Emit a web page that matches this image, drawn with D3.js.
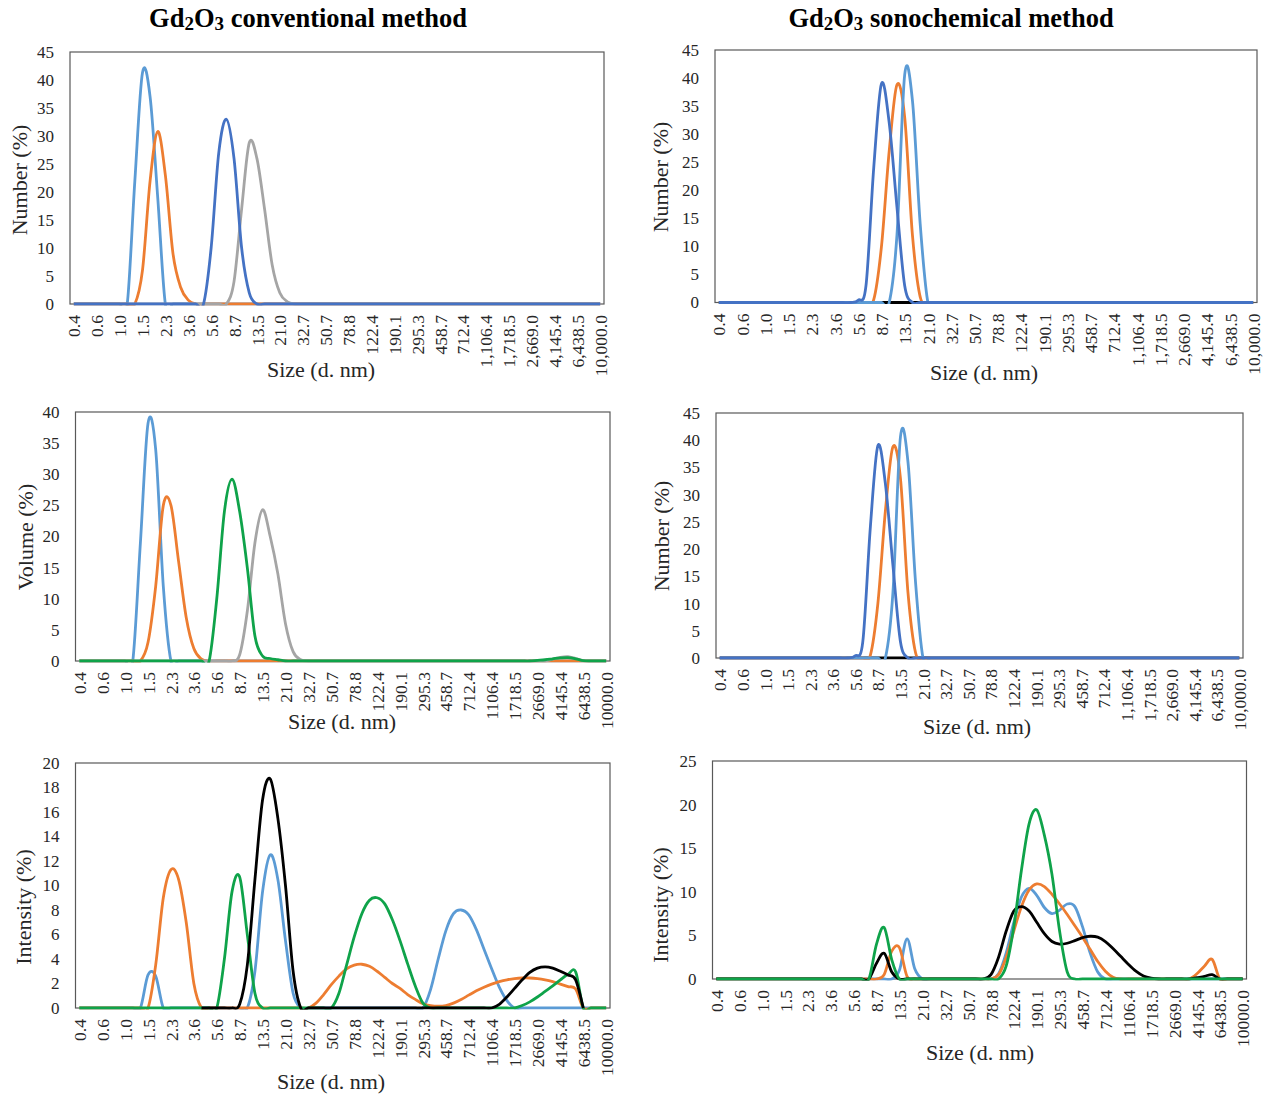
<!DOCTYPE html>
<html>
<meta charset="utf-8">
<style>
body { margin: 0; background: #fff; }
svg text { font-family: "Liberation Serif", "Times New Roman", serif; fill: #262626; }
.y-axis .tick text { font-size: 17px; }
.x-axis .tick text { font-size: 17.5px; }
.axis-title { font-size: 22px; }
.head { font-size: 26.5px; font-weight: bold; fill: #000; }
.box { fill: none; stroke: #595959; stroke-width: 1.2; }
.series { fill: none; stroke-width: 2.8; stroke-linejoin: round; }
</style>
<body>
<svg id="chart" width="1265" height="1094"></svg>
<script src="https://d3js.org/d3.v7.min.js"></script>
<script>

// size classes (d. nm): 70 bins, every third one is labelled
var binCount = 70, labelEvery = 3;
var sizeLabels = ["0.4","0.6","1.0","1.5","2.3","3.6","5.6","8.7","13.5","21.0","32.7","50.7",
    "78.8","122.4","190.1","295.3","458.7","712.4","1106.4","1718.5","2669.0","4145.4","6438.5","10000.0"];
var sizeLabelsComma = ["0.4","0.6","1.0","1.5","2.3","3.6","5.6","8.7","13.5","21.0","32.7","50.7",
    "78.8","122.4","190.1","295.3","458.7","712.4","1,106.4","1,718.5","2,669.0","4,145.4","6,438.5","10,000.0"];

// conventional method, number %
var numConvLightBlue = [0,0,0,0,0,0,0,0,22,41.3, 37,19,0,0,0,0,0,0,0,0, 0,0,0,0,0,0,0,0,0,0,
    0,0,0,0,0,0,0,0,0,0, 0,0,0,0,0,0,0,0,0,0, 0,0,0,0,0,0,0,0,0,0, 0,0,0,0,0,0,0,0,0,0];
var numConvOrange = [0,0,0,0,0,0,0,0,0,6, 22,30.8,23,9,3,0.7,0,0,0,0, 0,0,0,0,0,0,0,0,0,0,
    0,0,0,0,0,0,0,0,0,0, 0,0,0,0,0,0,0,0,0,0, 0,0,0,0,0,0,0,0,0,0, 0,0,0,0,0,0,0,0,0,0];
var numConvGray = [0,0,0,0,0,0,0,0,0,0, 0,0,0,0,0,0,0,0,0,0, 0,4,17,28.8,26,17,7,2,0.4,0,
    0,0,0,0,0,0,0,0,0,0, 0,0,0,0,0,0,0,0,0,0, 0,0,0,0,0,0,0,0,0,0, 0,0,0,0,0,0,0,0,0,0];
var numConvDarkBlue = [0,0,0,0,0,0,0,0,0,0, 0,0,0,0,0,0,0,0,10,27, 33,26,10,2,0,0,0,0,0,0,
    0,0,0,0,0,0,0,0,0,0, 0,0,0,0,0,0,0,0,0,0, 0,0,0,0,0,0,0,0,0,0, 0,0,0,0,0,0,0,0,0,0];

// sonochemical method, number %
var numSonoBlack = [0,0,0,0,0,0,0,0,0,0, 0,0,0,0,0,0,0,0,0,0, 0,0,0,0,0,0,0,0,0,0,
    0,0,0,0,0,0,0,0,0,0, 0,0,0,0,0,0,0,0,0,0, 0,0,0,0,0,0,0,0,0,0, 0,0,0,0,0,0,0,0,0,0];
var numSonoOrange = [0,0,0,0,0,0,0,0,0,0, 0,0,0,0,0,0,0,0,0,0, 0.5,10,27,38.8,33,12,1,0,0,0,
    0,0,0,0,0,0,0,0,0,0, 0,0,0,0,0,0,0,0,0,0, 0,0,0,0,0,0,0,0,0,0, 0,0,0,0,0,0,0,0,0,0];
var numSonoLightBlue = [0,0,0,0,0,0,0,0,0,0, 0,0,0,0,0,0,0,0,0,0, 0,0,0,12,40.6,36,14,0,0,0,
    0,0,0,0,0,0,0,0,0,0, 0,0,0,0,0,0,0,0,0,0, 0,0,0,0,0,0,0,0,0,0, 0,0,0,0,0,0,0,0,0,0];
var numSonoDarkBlue = [0,0,0,0,0,0,0,0,0,0, 0,0,0,0,0,0,0,0,0.4,3, 24,39,32,17,3,0,0,0,0,0,
    0,0,0,0,0,0,0,0,0,0, 0,0,0,0,0,0,0,0,0,0, 0,0,0,0,0,0,0,0,0,0, 0,0,0,0,0,0,0,0,0,0];

// conventional method, volume %
var volConvLightBlue = [0,0,0,0,0,0,0,0,19,38.2, 34,12,0,0,0,0,0,0,0,0, 0,0,0,0,0,0,0,0,0,0,
    0,0,0,0,0,0,0,0,0,0, 0,0,0,0,0,0,0,0,0,0, 0,0,0,0,0,0,0,0,0,0, 0,0,0,0,0,0,0,0,0,0];
var volConvOrange = [0,0,0,0,0,0,0,0,0,3, 12,25,25,16,7,2,0.3,0,0,0, 0,0,0,0,0,0,0,0,0,0,
    0,0,0,0,0,0,0,0,0,0, 0,0,0,0,0,0,0,0,0,0, 0,0,0,0,0,0,0,0,0,0, 0,0,0,0,0,0,0,0,0,0];
var volConvGray = [0,0,0,0,0,0,0,0,0,0, 0,0,0,0,0,0,0,0,0,0, 0,1,8,19,24.3,20,14,6,1.5,0.2,
    0,0,0,0,0,0,0,0,0,0, 0,0,0,0,0,0,0,0,0,0, 0,0,0,0,0,0,0,0,0,0, 0,0,0.3,0.6,0.7,0.4,0.05,0,0,0];
var volConvGreen = [0,0,0,0,0,0,0,0,0,0, 0,0,0,0,0,0,0,0,10,24, 29.2,24,15,4,0.8,0.4,0.2,0,0,0,
    0,0,0,0,0,0,0,0,0,0, 0,0,0,0,0,0,0,0,0,0, 0,0,0,0,0,0,0,0,0,0, 0.1,0.2,0.35,0.5,0.55,0.35,0.05,0,0,0];

// conventional method, intensity %
var intConvLightBlue = [0,0,0,0,0,0,0,0,0,2.7, 2.6,0,0,0,0,0,0,0,0,0, 0,0,0,3,9.5,12.5,10.5,5.5,1.2,0,
    0,0,0,0,0,0,0,0,0,0, 0,0,0,0,0,0,1.5,4,6.3,7.7, 8,7.6,6.4,4.8,3.2,1.7,0.6,0,0,0, 0,0,0,0,0,0,0,0,0,0];
var intConvOrange = [0,0,0,0,0,0,0,0,0,0, 3.5,9,11.3,10.5,7,2,0,0,0,0, 0,0,0,0,0,0,0,0,0,0,
    0,0.4,1.1,1.9,2.6,3.2,3.5,3.57,3.4,3.0, 2.5,2.0,1.6,1.1,0.7,0.35,0.2,0.15,0.2,0.4,
    0.7,1.05,1.4,1.7,1.95,2.15,2.3,2.4,2.45,2.45, 2.4,2.3,2.15,1.95,1.75,1.55,0,0,0,0];
var intConvGreen = [0,0,0,0,0,0,0,0,0,0, 0,0,0,0,0,0,0,0,0,4, 9.5,10.7,6,1.2,0,0,0,0,0,0,
    0,0,0,0,1.2,3.5,5.8,7.7,8.8,9.0, 8.5,7.2,5.5,3.6,1.8,0.4,0,0,0,0,
    0,0,0,0,0,0,0,0,0.2,0.5, 0.9,1.35,1.8,2.3,2.75,2.95,0,0,0,0];
var intConvBlack = [null,null,null,null,null,null,null,null,null,null, null,null,null,null,null,null,0,0,0,0,
    0,0.3,3.5,10.5,17,18.7,15.5,10,3,0, 0,0,0,0,0,0,0,0,0,0, 0,0,0,0,0,0,0,0,0,0,
    0,0,0,0,0,0.3,0.9,1.6,2.3,2.9, 3.25,3.35,3.25,3.0,2.7,2.3,0,null,null,null];

// sonochemical method, intensity %
var intSonoLightBlue = [0,0,0,0,0,0,0,0,0,0, 0,0,0,0,0,0,0,0,0,0, 0,0,0,0,1.0,4.6,1.2,0,0,0,
    0,0,0,0,0,0,0,0.6,3,6.5, 9.4,10.4,9.6,8.2,7.5,7.9,8.6,8.3,6,3,
    0.8,0,0,0,0,0,0,0,0,0, 0,0,0,0,0,0,0,0,0,0];
var intSonoOrange = [0,0,0,0,0,0,0,0,0,0, 0,0,0,0,0,0,0,0,0,0, 0,0,0.5,3.2,3.6,0.3,0,0,0,0,
    0,0,0,0,0,0,0,0.5,2.5,5.5, 8.3,10.2,10.9,10.6,9.7,8.6,7.4,6.1,4.8,3.4,
    2.0,0.9,0.2,0,0,0,0,0,0,0, 0,0,0,0.6,1.5,2.25,0,0,0,0];
var intSonoBlack = [0,0,0,0,0,0,0,0,0,0, 0,0,0,0,0,0,0,0,0,0, 0,1.8,2.95,0.8,0,0,0,0,0,0,
    0,0,0,0,0,0,0.5,2.5,5.5,7.8, 8.3,7.8,6.5,5.2,4.3,4.0,4.1,4.4,4.75,4.9,
    4.8,4.3,3.5,2.6,1.7,0.9,0.35,0.1,0,0, 0,0,0,0.15,0.3,0.5,0,0,0,0];
var intSonoGreen = [0,0,0,0,0,0,0,0,0,0, 0,0,0,0,0,0,0,0,0,0, 0,4,5.9,2.2,0,0,0,0,0,0,
    0,0,0,0,0,0,0,0,1.5,6, 12.5,17.8,19.4,16.5,12,5.5,0.8,0,0,0,
    0,0,0,0,0,0,0,0,0,0, 0,0,0,0,0,0,0,0,0,0];

var colors = {lightBlue: "#5B9BD5", orange: "#ED7D31", gray: "#A5A5A5", darkBlue: "#4472C4", green: "#0FA34A", black: "#000000"};

var panels = [
    {box: [70, 604, 52, 304], yMax: 45, yStep: 5, yTitle: "Number (%)", yTitleAt: [19, 180], xTitleAt: [321, 377], labels: sizeLabelsComma,
     series: [[numConvLightBlue, "lightBlue"], [numConvOrange, "orange"], [numConvGray, "gray"], [numConvDarkBlue, "darkBlue"]]},
    {box: [715, 1257, 50, 302.5], yMax: 45, yStep: 5, yTitle: "Number (%)", yTitleAt: [660, 177], xTitleAt: [984, 380], labels: sizeLabelsComma,
     series: [[numSonoBlack, "black"], [numSonoOrange, "orange"], [numSonoLightBlue, "lightBlue"], [numSonoDarkBlue, "darkBlue"]]},
    {box: [75.5, 610, 412, 661], yMax: 40, yStep: 5, yTitle: "Volume (%)", yTitleAt: [25, 537], xTitleAt: [342, 729], labels: sizeLabels,
     series: [[volConvLightBlue, "lightBlue"], [volConvOrange, "orange"], [volConvGray, "gray"], [volConvGreen, "green"]]},
    {box: [716, 1243, 413, 658], yMax: 45, yStep: 5, yTitle: "Number (%)", yTitleAt: [661, 536], xTitleAt: [977, 734], labels: sizeLabelsComma,
     series: [[numSonoBlack, "black"], [numSonoOrange, "orange"], [numSonoLightBlue, "lightBlue"], [numSonoDarkBlue, "darkBlue"]]},
    {box: [75.5, 610, 763, 1008], yMax: 20, yStep: 2, yTitle: "Intensity (%)", yTitleAt: [23, 907], xTitleAt: [331, 1089], labels: sizeLabels,
     series: [[intConvLightBlue, "lightBlue"], [intConvOrange, "orange"], [intConvGreen, "green"], [intConvBlack, "black"]]},
    {box: [712.5, 1246.5, 761, 979], yMax: 25, yStep: 5, yTitle: "Intensity (%)", yTitleAt: [660, 905], xTitleAt: [980, 1060], labels: sizeLabels,
     series: [[intSonoLightBlue, "lightBlue"], [intSonoOrange, "orange"], [intSonoBlack, "black"], [intSonoGreen, "green"]]}
];

var svg = d3.select("#chart");
var defs = svg.append("defs");

// column headings
[["conventional method", 308], ["sonochemical method", 951]].forEach(function(h) {
    var t = svg.append("text").attr("class", "head")
        .attr("x", h[1]).attr("y", 27).attr("text-anchor", "middle");
    t.append("tspan").text("Gd");
    t.append("tspan").attr("font-size", "19px").attr("dy", 3).text("2");
    t.append("tspan").attr("dy", -3).text("O");
    t.append("tspan").attr("font-size", "19px").attr("dy", 3).text("3");
    t.append("tspan").attr("dy", -3).text(" " + h[0]);
});

panels.forEach(function(p, k) {
    var left = p.box[0], right = p.box[1], top = p.box[2], bottom = p.box[3];
    var x = d3.scalePoint().domain(d3.range(binCount)).range([left, right]).padding(0.5);
    var y = d3.scaleLinear().domain([0, p.yMax]).range([bottom, top]);
    var g = svg.append("g");

    // like Excel, smoothed lines are clipped at the value axis minimum
    defs.append("clipPath").attr("id", "clip" + k).append("rect")
        .attr("x", left).attr("y", top - 4)
        .attr("width", right - left).attr("height", bottom - top + 5.5);

    var yAxis = d3.axisLeft(y).tickValues(d3.range(0, p.yMax + 0.001, p.yStep))
        .tickSize(0).tickPadding(16);
    g.append("g").attr("class", "y-axis").attr("transform", "translate(" + left + ",0)").call(yAxis)
        .call(function(a) { a.select(".domain").remove(); });

    var xAxis = d3.axisBottom(x)
        .tickValues(d3.range(0, binCount, labelEvery))
        .tickFormat(function(i) { return p.labels[i / labelEvery]; })
        .tickSize(0);
    var xa = g.append("g").attr("class", "x-axis").attr("transform", "translate(0," + bottom + ")").call(xAxis);
    xa.select(".domain").remove();
    xa.selectAll("text")
        .attr("y", 0).attr("x", -11).attr("dy", "0.35em")
        .attr("transform", "rotate(-90)")
        .style("text-anchor", "end");

    g.append("rect").attr("class", "box")
        .attr("x", left).attr("y", top)
        .attr("width", right - left).attr("height", bottom - top);

    var line = d3.line()
        .defined(function(d) { return d != null; })
        .x(function(d, i) { return x(i); })
        .y(function(d) { return y(d); })
        .curve(d3.curveCatmullRom.alpha(0));

    var lines = g.append("g").attr("clip-path", "url(#clip" + k + ")");
    p.series.forEach(function(s) {
        lines.append("path").datum(s[0]).attr("class", "series")
            .attr("stroke", colors[s[1]]).attr("d", line);
    });

    g.append("text").attr("class", "axis-title")
        .attr("transform", "translate(" + p.yTitleAt[0] + "," + p.yTitleAt[1] + ") rotate(-90)")
        .attr("text-anchor", "middle").attr("dy", "0.35em")
        .text(p.yTitle);

    g.append("text").attr("class", "axis-title")
        .attr("x", p.xTitleAt[0]).attr("y", p.xTitleAt[1])
        .attr("text-anchor", "middle")
        .text("Size (d. nm)");
});

</script>
</body>
</html>
